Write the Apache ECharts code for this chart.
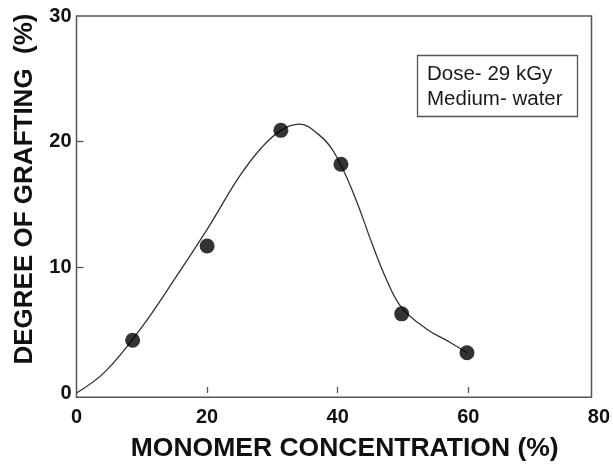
<!DOCTYPE html>
<html>
<head>
<meta charset="utf-8">
<script src="https://cdn.jsdelivr.net/npm/echarts@6/dist/echarts.min.js"></script>
<style>
  html, body { margin: 0; padding: 0; background: #fff; }
  #chart { width: 613px; height: 467px; }
</style>
</head>
<body>
<div id="chart"></div>
<script>
// Measured grafting yield at each monomer concentration
const concentration = [8.6, 20, 31.3, 40.5, 49.8, 59.8];
const grafting = [4.2, 11.7, 20.9, 18.2, 6.3, 3.2];

// Hand-drawn trend curve through the measurements
const curveX = [0, 4.4, 9.8, 15.2, 20.1, 24.9, 28.3, 31.3, 34.1, 37.0, 39.4, 42.4, 45.4, 47.5, 49.8, 53.6, 57.3, 59.8];
const curveY = [0, 1.7, 5.1, 9.2, 13.1, 17.2, 19.5, 20.9, 21.4, 20.6, 19.2, 15.9, 11.7, 9.0, 6.8, 5.1, 4.0, 3.2];

// Axis ticks and labels
const xTicks = [20, 40, 60];
const xLabels = [0, 20, 40, 60, 80];
const yTicks = [10, 20];
const yLabels = [0, 10, 20, 30];

const conditionsNote = 'Dose- 29 kGy\nMedium- water';

const FONT = '"Liberation Sans", Arial, Helvetica, sans-serif';
const INK = '#555';

const chart = echarts.init(document.getElementById('chart'), null, { renderer: 'canvas' });

chart.setOption({
  animation: false,
  backgroundColor: '#fff',
  title: {
    text: conditionsNote,
    left: 417,
    top: 55,
    padding: [7, 15, 5, 10],
    borderColor: INK,
    borderWidth: 1.3,
    textStyle: {
      fontFamily: FONT,
      fontWeight: 'normal',
      fontSize: 20.5,
      lineHeight: 25,
      color: '#1a1a1a'
    }
  },
  grid: [
    // plotting frame
    { left: 76.5, right: 21.5, top: 16, bottom: 69.7, show: true, borderColor: INK, borderWidth: 1.5, backgroundColor: 'transparent' },
    // scale for the data and ticks (x runs past the frame up to 80)
    { left: 76.5, right: 14, top: 16, bottom: 69.7 }
  ],
  xAxis: [
    { gridIndex: 0, type: 'value', show: false, min: 0, max: 1 },
    {
      gridIndex: 1,
      type: 'value',
      min: 0,
      max: 80,
      interval: 20,
      splitLine: { show: false },
      axisLine: { show: false },
      axisTick: { show: true, inside: true, length: 6, customValues: xTicks, lineStyle: { color: INK, width: 1.3 } },
      axisLabel: {
        customValues: xLabels,
        margin: 14,
        fontFamily: FONT,
        fontWeight: 'bold',
        fontSize: 20,
        color: '#111'
      },
      name: 'MONOMER CONCENTRATION (%)',
      nameLocation: 'middle',
      nameGap: 42,
      nameTextStyle: {
        fontFamily: FONT,
        fontWeight: 'bold',
        fontSize: 26.5,
        color: '#111',
        padding: [0, 0, 0, 14]
      }
    }
  ],
  yAxis: [
    { gridIndex: 0, type: 'value', show: false, min: 0, max: 1 },
    {
      gridIndex: 1,
      type: 'value',
      min: 0,
      max: 30,
      interval: 10,
      splitLine: { show: false },
      axisLine: { show: false },
      axisTick: { show: true, inside: true, length: 7, customValues: yTicks, lineStyle: { color: INK, width: 1.3 } },
      axisLabel: {
        customValues: yLabels,
        margin: 5,
        fontFamily: FONT,
        fontWeight: 'bold',
        fontSize: 20,
        color: '#111'
      },
      name: 'DEGREE OF GRAFTING  (%)',
      nameLocation: 'middle',
      nameRotate: 90,
      nameGap: 39,
      nameTextStyle: {
        fontFamily: FONT,
        fontWeight: 'bold',
        fontSize: 26,
        color: '#111',
        padding: [0, 0, 0, 31]
      }
    }
  ],
  series: [
    {
      type: 'line',
      xAxisIndex: 1,
      yAxisIndex: 1,
      data: curveX.map((x, i) => [x, curveY[i]]),
      smooth: 0.4,
      showSymbol: false,
      symbol: 'none',
      lineStyle: { color: '#333', width: 1.3 },
      z: 2
    },
    {
      type: 'scatter',
      xAxisIndex: 1,
      yAxisIndex: 1,
      data: concentration.map((x, i) => [x, grafting[i]]),
      symbol: 'circle',
      symbolSize: 15,
      itemStyle: { color: '#000' },
      z: 3
    }
  ]
});
</script>
</body>
</html>
